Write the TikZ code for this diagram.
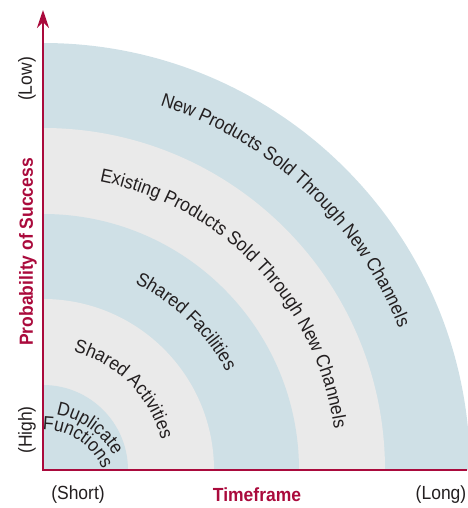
\documentclass[tikz,border=0pt]{standalone}
\usepackage{fontspec}
\setmainfont{Liberation Sans}[FakeStretch=0.92]
\usetikzlibrary{arrows.meta,decorations.text}

\definecolor{ringBlue}{HTML}{CFE0E6}
\definecolor{ringGray}{HTML}{EAEAEA}
\definecolor{axisRed}{HTML}{AA0A3C}
\definecolor{inkGray}{HTML}{231F20}
\newcommand{\bandfont}{\fontsize{19}{22}\selectfont}

\begin{document}
\begin{tikzpicture}[x=1pt,y=1pt,font=\bandfont,>={Stealth[length=18pt,width=12pt]}]
  \useasboundingbox (-43,-38) rectangle (424,470);

  % quarter rings, outermost first
  \foreach \r/\c in {427/ringBlue,342/ringGray,256/ringBlue,171/ringGray,85/ringBlue} {
    \fill[\c] (0,0) -- (\r,0) arc[start angle=0,end angle=90,radius=\r] -- cycle;
  }

  % ring labels
  \path[decorate,decoration={text along path,text align=center,
    text={|\bandfont\color{inkGray}|New Products Sold Through New Channels}}]
    (87:383) arc[start angle=87,end angle=7,radius=383];
  \path[decorate,decoration={text along path,text align=center,
    text={|\bandfont\color{inkGray}|Existing Products Sold Through New Channels}}]
    (85:294) arc[start angle=85,end angle=2,radius=294];
  \path[decorate,decoration={text along path,text align=center,
    text={|\bandfont\color{inkGray}|Shared Facilities}}]
    (86:208) arc[start angle=86,end angle=6,radius=208];
  \path[decorate,decoration={text along path,text align=center,
    text={|\bandfont\color{inkGray}|Shared Activities}}]
    (85:122) arc[start angle=85,end angle=5,radius=122];
  % innermost ring, two lines on a lower centre
  \path[decorate,decoration={text along path,text align=center,
    text={|\bandfont\color{inkGray}|Duplicate}}]
    ([shift={(0,-25)}]100:81) arc[start angle=100,end angle=10,radius=81];
  \path[decorate,decoration={text along path,text align=center,
    text={|\bandfont\color{inkGray}|Functions}}]
    ([shift={(0,-25)}]105:65) arc[start angle=105,end angle=9,radius=65];

  % axes
  \coordinate (o) at (0,0);
  \coordinate (ytip) at (0,460);
  \coordinate (xend) at (424,0);
  \draw[axisRed,line width=2.5pt,->] (xend) -- (o) -- (ytip);

  % axis labels
  \node[rotate=90,text=inkGray] (ylow) at (-16,391) {(Low)};
  \node[rotate=90,text=axisRed,font=\bandfont\bfseries] (ytitle) at (-15,218) {Probability of Success};
  \node[rotate=90,text=inkGray] (yhigh) at (-16,40) {(High)};
  \node[text=inkGray] (xshort) at (35,-25) {(Short)};
  \node[text=axisRed,font=\bandfont\bfseries] (xtitle) at (214,-25) {Timeframe};
  \node[text=inkGray] (xlong) at (398,-25) {(Long)};
\end{tikzpicture}
\end{document}
